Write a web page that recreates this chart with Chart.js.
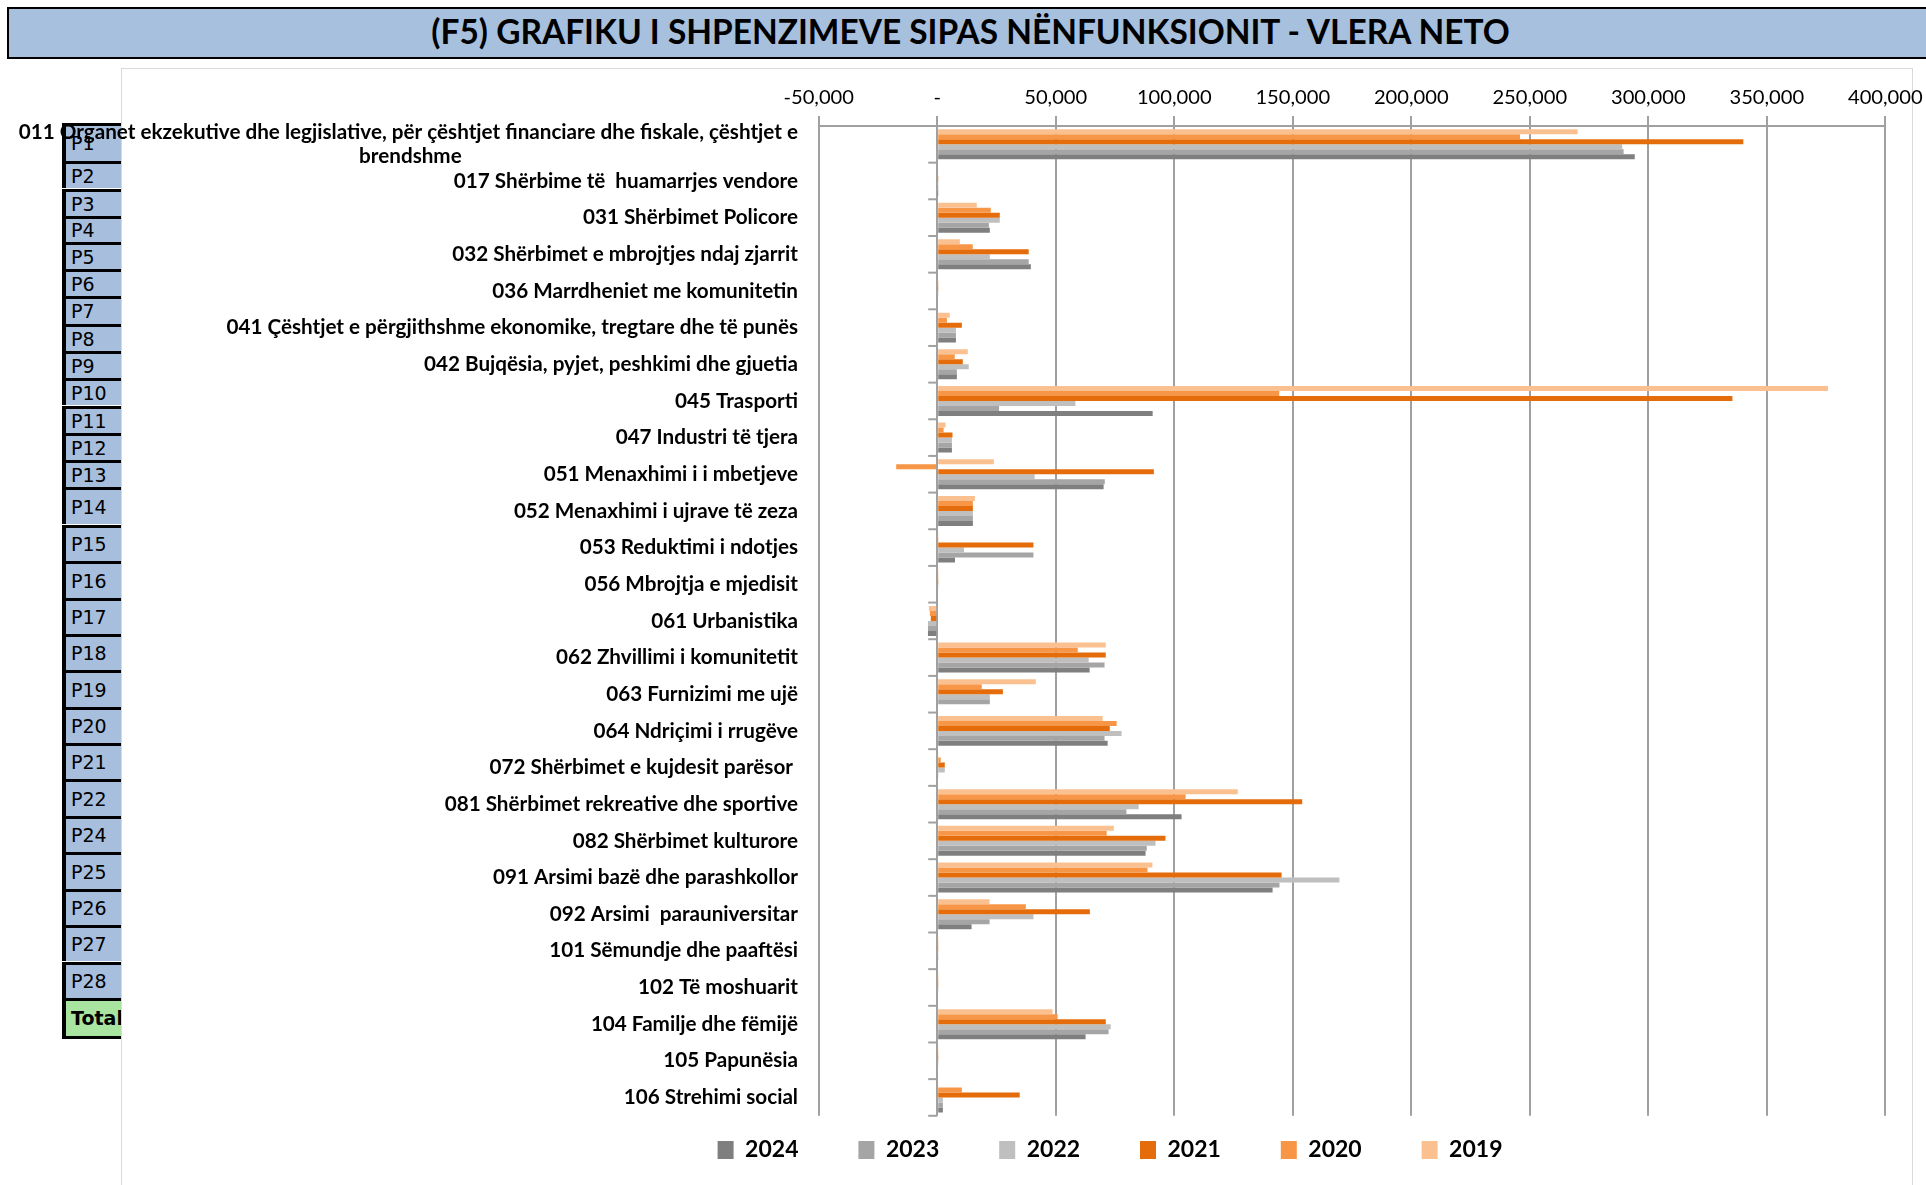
<!DOCTYPE html>
<html><head><meta charset="utf-8">
<script src="https://cdn.jsdelivr.net/npm/chart.js@4.4.1/dist/chart.umd.min.js"></script>
<style>
html,body{margin:0;padding:0;width:1926px;height:1185px;overflow:hidden;background:#fff;}
#title{position:absolute;left:7px;top:7px;width:1925px;background:#a7c0de;border:2px solid #000;border-right:none;display:flex;align-items:center;justify-content:center;font-weight:bold;color:#000;white-space:nowrap;box-sizing:border-box;height:52px;padding-bottom:4px;}
#pcol{position:absolute;left:62px;top:0;width:60px;height:1185px;}
.pc{position:absolute;left:0;width:59px;background:#a7bfdd;border-left:4px solid #000;border-top:3px solid #000;box-sizing:border-box;font-family:"DejaVu Sans",sans-serif;font-size:19px;color:#000;padding-left:5px;overflow:hidden;white-space:nowrap;}
.pc.tot{background:#a9e5a1;font-weight:bold;border-bottom:3px solid #000;}
#box{position:absolute;left:121px;top:68px;width:1790px;height:1200px;border:1px solid #d9d9d9;background:#fff;}
#wrap{position:absolute;left:0;top:0;width:1926px;height:1185px;}
</style></head><body>
<div id="pcol"></div>
<div id="box"></div>
<div id="title"></div>
<div id="wrap"><canvas id="c" width="1926" height="1185"></canvas></div>
<script>
// ---------------- data ----------------
const titleText = "(F5) GRAFIKU I SHPENZIMEVE SIPAS NËNFUNKSIONIT - VLERA NETO";
const categories = [
  "011 Organet ekzekutive dhe legjislative, për çështjet financiare dhe fiskale, çështjet e brendshme",
  "017 Shërbime të  huamarrjes vendore",
  "031 Shërbimet Policore",
  "032 Shërbimet e mbrojtjes ndaj zjarrit",
  "036 Marrdheniet me komunitetin",
  "041 Çështjet e përgjithshme ekonomike, tregtare dhe të punës",
  "042 Bujqësia, pyjet, peshkimi dhe gjuetia",
  "045 Trasporti",
  "047 Industri të tjera",
  "051 Menaxhimi i i mbetjeve",
  "052 Menaxhimi i ujrave të zeza",
  "053 Reduktimi i ndotjes",
  "056 Mbrojtja e mjedisit",
  "061 Urbanistika",
  "062 Zhvillimi i komunitetit",
  "063 Furnizimi me ujë",
  "064 Ndriçimi i rrugëve",
  "072 Shërbimet e kujdesit parësor ",
  "081 Shërbimet rekreative dhe sportive",
  "082 Shërbimet kulturore",
  "091 Arsimi bazë dhe parashkollor",
  "092 Arsimi  parauniversitar",
  "101 Sëmundje dhe paaftësi",
  "102 Të moshuarit",
  "104 Familje dhe fëmijë",
  "105 Papunësia",
  "106 Strehimi social"
];
const years = ["2019","2020","2021","2022","2023","2024"];
const v2019 = [270200,400,16700,9550,400,5300,12900,375800,3500,23900,15900,300,300,-3500,71100,41600,69800,300,126800,74500,90800,22100,300,300,48700,300,500];
const v2020 = [245900,400,22600,15000,300,4100,7400,144300,2700,-17300,15050,300,300,-3100,59300,18800,75700,1500,104800,71500,88700,37400,300,300,50800,300,10400];
const v2021 = [340100,300,26400,38600,300,10400,10800,335500,6450,91400,15050,40600,300,-2700,71100,27700,72800,3200,154000,96300,145300,64400,500,500,71100,300,34800];
const v2022 = [289000,300,26400,22200,300,7900,13300,58300,6200,41100,15050,11300,300,-3900,63900,22200,77800,3200,85000,92100,169700,40600,500,300,73200,300,2400];
const v2023 = [289600,200,21800,38600,0,7900,8300,26100,6200,70700,15050,40600,0,-3900,70600,22200,70600,500,79800,88400,144400,22100,300,0,72300,0,2400];
const v2024 = [294300,200,22200,39500,0,7900,8300,90900,6200,70200,15050,7500,0,-3900,64300,0,71900,0,103100,87900,141500,14500,0,0,62600,0,2400];
const seriesValues = [v2019,v2020,v2021,v2022,v2023,v2024];
const xMin = -50000, xMax = 400000, xStep = 50000;
const rowLabels = ["P1","P2","P3","P4","P5","P6","P7","P8","P9","P10","P11","P12","P13","P14","P15","P16","P17","P18","P19","P20","P21","P22","P24","P25","P26","P27","P28","Total"];

// ---------------- styles / layout ----------------
const colors = ["#fac090","#f79646","#e46c0a","#bfbfbf","#a5a5a5","#7f7f7f"];
const rowEdges = [124,162.7,190,217,243.5,270.5,297.5,325,352,379.6,407,434,461.7,488.7,526,562,599,635,671,708,744,780,817,853,890.5,926.6,963,999.5,1037];
const plotLeft = 818.7, plotRight = 1885.3, plotTop = 126, plotBottom = 1115.8, legendRowY = 1150, legendFirstX = 717.6, legendPitch = 140.8;
const padLeft = 4, xTickLen = 10, xTickPad = 2, xLabelMid = 97;

const meas = document.createElement('canvas').getContext('2d');
function tw(font, text){ meas.font = font; return meas.measureText(text).width; }
function available(fam){
  const t = 'abcdefghijklmnopqrstuvwxyz0123456789ËÇë';
  return tw('40px monospace', t) !== tw('40px "'+fam+'", monospace', t) ||
         tw('40px serif', t) !== tw('40px "'+fam+'", serif', t);
}
const fam = ['Lato','Liberation Sans Narrow','DejaVu Sans Condensed','Liberation Sans'].find(available) || 'sans-serif';
function fit(weight, text, target){ return 100*target/tw(weight+' 100px "'+fam+'"', text); }

const line1 = '011 Organet ekzekutive dhe legjislative, për çështjet financiare dhe fiskale, çështjet e';
const catSize = Math.min(
  (fit('bold','017 Shërbime të  huamarrjes vendore',354) + fit('bold','041 Çështjet e përgjithshme ekonomike, tregtare dhe të punës',588) + fit('bold',line1,787))/3,
  fit('bold',line1,780));
const xSize = fit('normal','400,000',74.7);
const legSize = fit('bold','2024',53.4);
const titleSize = fit('bold', titleText, 1082);
const xLineH = 2*(plotTop - xTickLen - xTickPad - xLabelMid);

// title + spreadsheet cells
const tEl = document.getElementById('title');
tEl.textContent = titleText;
tEl.style.fontFamily = '"'+fam+'", sans-serif';
tEl.style.fontSize = titleSize+'px';
const pcol = document.getElementById('pcol');
rowLabels.forEach((lab,i)=>{
  const d = document.createElement('div');
  d.className = 'pc' + (lab==='Total' ? ' tot' : '');
  const top = rowEdges[i]-1.5, h = rowEdges[i+1]-rowEdges[i] + (lab==='Total'?3:0);
  d.style.top = top+'px'; d.style.height = h+'px';
  d.style.lineHeight = (h-3-(lab==='Total'?3:0))+'px';
  d.textContent = lab;
  pcol.appendChild(d);
});

// legend geometry
const legFont = 'bold '+legSize+'px "'+fam+'"';
const boxW = 16, boxH = 18;
const itemW = years.map(y => boxW + legSize/2 + tw(legFont, y));
const legPad = legendPitch - itemW[0];

// wrapping + centering of long category labels
const catFont = 'bold '+catSize+'px "'+fam+'"';
const wrapLimit = 800;
function wrapLabel(text){
  if (tw(catFont, text) <= wrapLimit) return text;
  const words = text.split(' ');
  const lines = []; let cur = '';
  words.forEach(w => {
    const t = cur ? cur+' '+w : w;
    if (cur && tw(catFont, t) > wrapLimit) { lines.push(cur); cur = w; } else cur = t;
  });
  if (cur) lines.push(cur);
  const widths = lines.map(l => tw(catFont, l));
  const maxW = Math.max(...widths);
  const sp = tw(catFont, ' ');
  return lines.map((l,i) => l + ' '.repeat(Math.round((maxW-widths[i])/2/sp)));
}

const catTicks = {
  id:'catTicks',
  beforeDatasetsDraw(chart){
    const {ctx, scales:{x,y}} = chart;
    const x0 = x.getPixelForValue(0);
    const n = chart.data.labels.length;
    const step = y.getPixelForValue(1) - y.getPixelForValue(0);
    ctx.save(); ctx.strokeStyle = '#a0a0a0'; ctx.lineWidth = 2;
    for (let i=0;i<=n;i++){
      const yy = y.getPixelForValue(0) - step/2 + i*step;
      ctx.beginPath(); ctx.moveTo(x0-9, yy); ctx.lineTo(x0, yy); ctx.stroke();
    }
    ctx.restore();
  }
};
const legendPlace = {
  id:'legendPlace',
  afterLayout(chart){
    const L = chart.legend; if (!L) return;
    const ih = Math.max(legSize, boxH);
    L.top = legendRowY - legPad - ih/2;
    L.bottom = chart.height; L.height = L.bottom - L.top;
    const start = (L.left + legPad + L.right - L.lineWidths[0]) / 2;
    const dx = legendFirstX - start;
    L.left += dx; L.right += dx;
  }
};

new Chart(document.getElementById('c'), {
  type: 'bar',
  data: {
    labels: categories,
    datasets: years.map((y,i)=>({label:y, data:seriesValues[i], backgroundColor:colors[i], borderWidth:0, categoryPercentage:0.818, barPercentage:1.0}))
  },
  options: {
    indexAxis: 'y', responsive: false, animation: false,
    layout: { padding: { left: padLeft, right: 1926 - plotRight, top: plotTop - xTickLen - 2*xTickPad - xLineH, bottom: 0 } },
    plugins: {
      legend: { position:'bottom', reverse:true, maxHeight: 1185 - plotBottom,
        labels: { boxWidth:boxW, boxHeight:boxH, padding:legPad, color:'#000', font:{family:fam, size:legSize, weight:'bold'} } },
      tooltip: { enabled:false }
    },
    scales: {
      x: { position:'top', min:xMin, max:xMax,
        ticks: { stepSize:xStep, padding:xTickPad, color:'#000', maxRotation:0, autoSkip:false,
          font:{family:fam, size:xSize, lineHeight: xLineH/xSize}, callback: v => v === 0 ? '-' : Number(v).toLocaleString('en-US') },
        grid: { color:'#a0a0a0', lineWidth:2, tickLength:xTickLen, drawTicks:true },
        border: { display:true, color:'#a0a0a0', width:2 } },
      y: { ticks: { color:'#000', padding: plotLeft - 798, autoSkip:false,
          font:{family:fam, size:catSize, weight:'bold', lineHeight: 23.4/catSize},
          callback: function(value){ return wrapLabel(this.getLabelForValue(value)); } },
        grid: { display:false, drawTicks:false }, border: { display:false },
        afterFit(s){ s.width = plotLeft - padLeft; } }
    }
  },
  plugins: [catTicks, legendPlace]
});
</script>
</body></html>
